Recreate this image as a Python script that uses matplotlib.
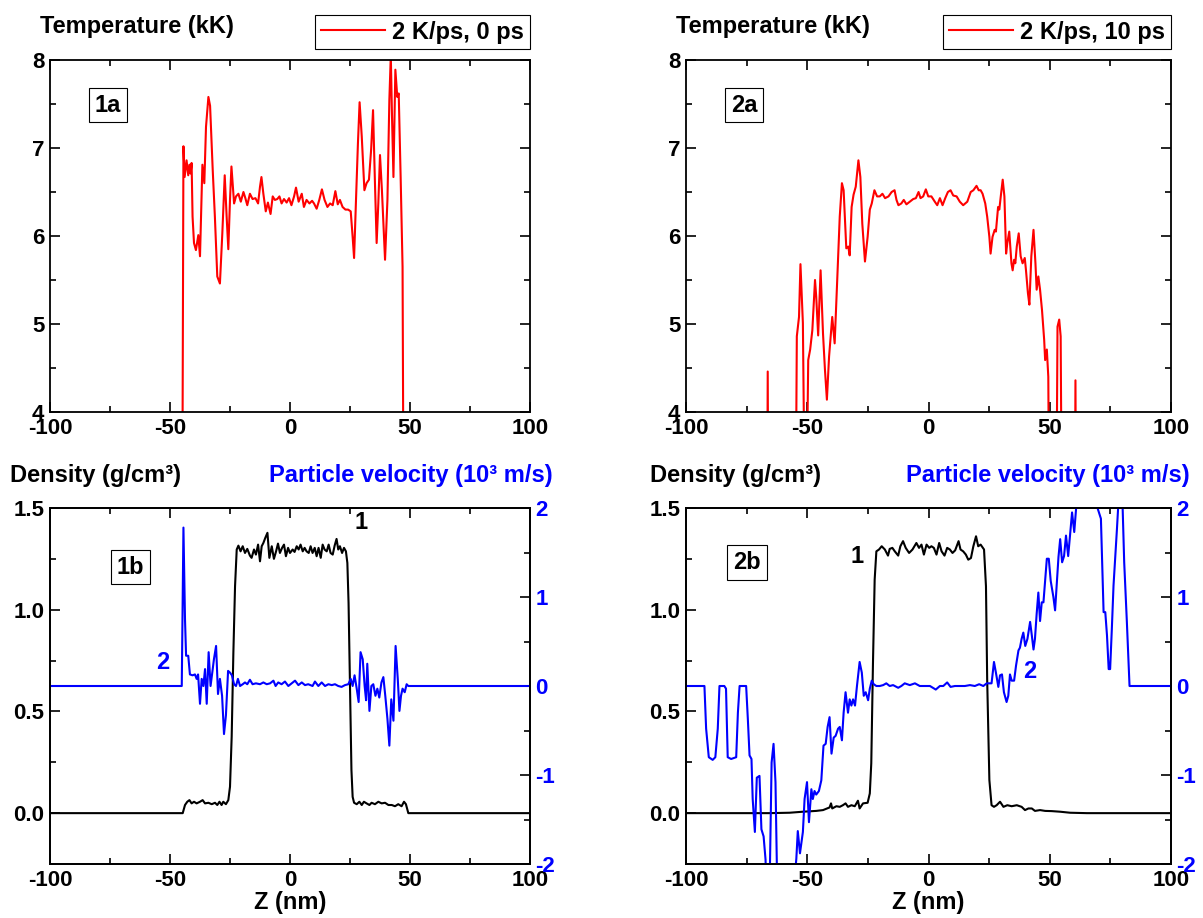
import matplotlib
matplotlib.use("Agg")
import matplotlib.pyplot as plt
from matplotlib.ticker import MultipleLocator

# Panel 1a: temperature profile, 2 K/ps, 0 ps
z_1a = [-45.2, -44.4, -43.9, -43.1, -42.4, -41.9, -41.4, -41.0, -40.6, -40.0, -39.2, -38.2, -37.5,
        -36.5, -35.7, -35.0, -34.0, -33.3, -32.2, -31.3, -30.3, -29.2, -28.2, -27.2, -26.4, -25.7,
        -25.0, -24.4, -23.3, -22.5, -21.5, -20.5, -19.4, -18.6, -17.8, -16.7, -15.6, -14.4, -13.3,
        -12.5, -11.9, -11.1, -10.1, -9.2, -8.1, -7.2, -6.3, -5.3, -4.4, -3.5, -2.5, -1.4, -0.4, 0.6,
        1.7, 2.5, 3.6, 4.9, 5.8, 6.9, 8.1, 9.2, 10.0, 11.1, 12.2, 13.3, 14.4, 15.6, 16.7, 17.8, 18.9,
        19.9, 20.8, 21.9, 23.1, 24.2, 25.3, 26.1, 26.7, 27.5, 28.3, 29.0, 29.9, 31.0, 31.9, 32.9,
        33.8, 34.6, 35.4, 36.1, 36.8, 37.5, 38.3, 39.6, 40.6, 41.4, 42.0, 42.5, 43.1, 43.9, 44.7,
        45.3, 46.1, 46.9, 47.7]
t_1a = [0.0, 7.02, 6.67, 6.86, 6.69, 6.81, 6.71, 6.83, 6.22, 5.92, 5.84, 6.01, 5.77,
        6.81, 6.60, 7.24, 7.58, 7.48, 6.75, 6.22, 5.54, 5.46, 6.03, 6.69, 6.22, 5.85,
        6.41, 6.79, 6.37, 6.45, 6.48, 6.39, 6.50, 6.43, 6.35, 6.48, 6.42, 6.43, 6.37,
        6.56, 6.67, 6.48, 6.28, 6.38, 6.25, 6.45, 6.41, 6.42, 6.45, 6.37, 6.42, 6.38, 6.43, 6.35,
        6.45, 6.55, 6.39, 6.48, 6.33, 6.41, 6.37, 6.40, 6.37, 6.31, 6.41, 6.53, 6.41, 6.33, 6.37, 6.35, 6.51,
        6.36, 6.41, 6.33, 6.30, 6.30, 6.28, 5.99, 5.75, 6.41, 7.05, 7.52, 7.13, 6.52, 6.60, 6.64,
        6.98, 7.43, 6.60, 5.92, 6.37, 6.92, 6.52, 5.73, 6.41, 7.55, 8.05, 7.36, 6.67, 7.89, 7.58,
        7.62, 6.67, 5.65, 0.0]

# Panel 2a: temperature profile, 2 K/ps, 10 ps
z_2a = [-66.9, -66.3, -65.7, -55.4, -54.3, -53.4, -52.8, -51.8, -50.7, -49.6, -48.8, -47.9, -46.8,
        -46.3, -45.5, -44.5, -43.5, -42.7, -41.9, -41.0, -39.7, -38.7, -37.7, -36.6, -35.7, -35.0,
        -33.9, -33.1, -32.5, -31.7, -30.9, -30.0, -28.9, -28.1, -27.3, -26.2, -25.1, -24.2, -23.4,
        -22.3, -21.2, -20.1, -19.0, -17.9, -16.5, -15.2, -14.0, -13.2, -12.4, -11.2, -10.2, -9.1,
        -7.7, -6.3, -5.2, -4.1, -3.3, -2.2, -1.1, -0.1, 1.2, 2.6, 3.6, 4.7, 5.8, 6.9, 8.0, 9.1, 10.2,
        11.6, 12.9, 14.3, 16.0, 17.4, 18.5, 19.8, 20.7, 21.5, 22.3, 23.4, 24.2, 25.1, 25.6, 26.4,
        27.3, 27.8, 28.7, 29.2, 29.8, 30.6, 31.3, 32.0, 32.5, 33.3, 34.2, 34.7, 35.3, 35.8, 36.4,
        37.2, 38.0, 38.8, 39.7, 40.2, 41.0, 41.6, 42.4, 43.3, 44.1, 44.6, 45.3, 46.0, 46.8, 47.7,
        48.1, 48.8, 49.4, 50.4, 52.1, 53.2, 53.9, 54.5, 55.6, 59.9, 60.6, 61.3]
t_2a = [0.0, 4.46, 0.0, 0.0, 4.86, 5.08, 5.68, 5.01, 2.0, 4.59, 4.71, 4.93, 5.50,
        5.31, 4.87, 5.61, 4.89, 4.48, 4.14, 4.63, 5.08, 4.78, 5.46, 6.22, 6.60, 6.52,
        5.86, 5.88, 5.78, 6.33, 6.47, 6.56, 6.86, 6.67, 6.14, 5.71, 5.99, 6.30, 6.37,
        6.52, 6.45, 6.45, 6.48, 6.43, 6.45, 6.50, 6.52, 6.41, 6.35, 6.37, 6.41, 6.36,
        6.39, 6.42, 6.43, 6.50, 6.43, 6.45, 6.53, 6.45, 6.45, 6.39, 6.35, 6.43, 6.35, 6.43, 6.50, 6.52, 6.46,
        6.45, 6.39, 6.35, 6.39, 6.50, 6.52, 6.57, 6.52, 6.52, 6.48, 6.37, 6.22, 5.99, 5.80, 5.99,
        6.07, 6.05, 6.33, 6.30, 6.45, 6.64, 6.45, 5.80, 5.92, 6.05, 5.69, 5.61, 5.73, 5.69, 5.88,
        6.03, 5.77, 5.69, 5.75, 5.61, 5.35, 5.22, 5.77, 6.07, 5.69, 5.39, 5.54, 5.39, 5.16, 4.82,
        4.59, 4.71, 4.40, 0.0, 0.0, 4.97, 5.05, 4.86, 0.0, 0.0, 4.36, 0.0]

# Panel 1b: density (curve 1) and particle velocity (curve 2), 0 ps
z_1b_rho = [-100.0, -44.7, -43.75, -42.8, -41.9, -41.0, -40.0, -38.9, -37.5, -36.4, -35.4, -34.0, -32.6,
            -31.25, -30.3, -29.4, -28.5, -27.8, -26.7, -25.7, -25.0, -24.3, -23.6, -22.9, -22.2, -21.5,
            -20.6, -19.7, -18.75, -17.8, -16.7, -16.0, -15.0, -14.2, -13.3, -12.5, -11.8, -11.1, -10.3,
            -9.4, -8.6, -7.6, -6.7, -5.8, -5.0, -4.2, -3.3, -2.5, -1.7, -0.8, 0.0, 1.1, 1.9, 2.8, 3.6,
            4.4, 5.3, 6.1, 6.9, 7.8, 8.6, 9.4, 10.3, 11.1, 11.9, 12.8, 13.6, 14.4, 15.3, 16.1, 16.9,
            17.8, 18.6, 19.4, 20.1, 20.8, 21.7, 22.5, 23.3, 23.9, 24.4, 25.0, 25.6, 26.1, 26.7, 27.8,
            28.9, 29.9, 30.8, 31.9, 33.1, 34.0, 35.4, 36.8, 38.2, 39.6, 41.0, 42.4, 43.75, 45.1, 46.5,
            47.5, 48.3, 49.3, 100.0]
rho_1b = [0.0, 0.0, 0.04, 0.056, 0.064, 0.048, 0.056, 0.048, 0.056, 0.064, 0.048, 0.051, 0.044,
          0.051, 0.04, 0.056, 0.04, 0.056, 0.044, 0.064, 0.13, 0.376, 0.787, 1.115, 1.296, 1.315,
          1.287, 1.312, 1.279, 1.299, 1.266, 1.255, 1.296, 1.271, 1.320, 1.238, 1.312, 1.328, 1.353,
          1.378, 1.255, 1.312, 1.250, 1.287, 1.325, 1.279, 1.304, 1.320, 1.263, 1.304, 1.279, 1.296, 1.284, 1.312, 1.296,
          1.320, 1.287, 1.304, 1.287, 1.279, 1.312, 1.279, 1.304, 1.263, 1.304, 1.255, 1.320, 1.296, 1.287, 1.320, 1.279,
          1.271, 1.315, 1.348, 1.296, 1.312, 1.279, 1.304, 1.287, 1.230, 1.033, 0.622, 0.212, 0.08, 0.051, 0.044,
          0.056, 0.04, 0.056, 0.048, 0.04, 0.051, 0.044, 0.056, 0.048, 0.051, 0.04, 0.04, 0.034, 0.044, 0.034,
          0.056, 0.044, 0.0, 0.0]
z_1b_vel = [-100.0, -45.1, -44.4, -43.75, -43.3, -42.4, -41.7, -40.6, -39.6, -38.9, -38.3, -37.5, -36.8,
            -36.1, -35.4, -34.7, -33.9, -33.1, -32.2, -31.7, -30.8, -30.0, -29.2, -28.3, -27.5, -26.7,
            -25.8, -25.0, -24.2, -23.3, -22.5, -21.7, -20.8, -19.7, -18.75, -17.8, -16.7, -15.6, -14.2,
            -12.5, -11.1, -9.7, -8.3, -6.9, -6.0, -4.9, -3.5, -2.1, -0.7, 0.7, 2.1, 3.5, 4.9, 6.25, 7.6,
            9.4, 10.4, 11.8, 13.2, 14.6, 16.0, 17.4, 18.75, 20.1, 21.5, 22.9, 24.3, 25.3, 26.1, 26.9,
            27.8, 28.6, 29.4, 30.3, 31.1, 31.7, 32.2, 33.1, 33.9, 34.7, 35.6, 36.4, 37.2, 38.1, 38.9,
            39.7, 40.6, 41.4, 42.2, 43.1, 44.0, 44.9, 45.6, 46.25, 46.9, 47.8, 48.6, 49.3, 100.0]
vel_1b = [0.0, 0.0, 1.78, 0.75, 0.34, 0.34, 0.13, 0.12, 0.13, 0.08, 0.13, -0.2, 0.08,
          0.0, 0.19, -0.2, 0.38, 0.0, 0.19, 0.30, 0.45, -0.09, 0.08, -0.11, -0.54, -0.33,
          0.17, 0.15, 0.12, 0.02, 0.0, 0.08, 0.0, 0.02, 0.04, 0.02, 0.07, 0.02, 0.03,
          0.02, 0.04, 0.02, 0.03, 0.06, 0.0, 0.04, 0.02, 0.05, 0.0, 0.03, 0.06, 0.01, 0.04, 0.01, 0.02,
          0.0, 0.05, 0.0, 0.04, 0.0, 0.02, 0.01, 0.02, 0.0, -0.01, 0.01, 0.02, 0.08, 0.0, 0.12,
          -0.03, -0.18, 0.38, 0.30, 0.0, -0.16, 0.25, -0.28, 0.0, 0.02, -0.11, -0.03, -0.13, 0.04, 0.10,
          -0.11, -0.37, -0.67, -0.15, -0.39, 0.45, 0.08, -0.28, -0.11, -0.03, -0.07, 0.02, 0.0, 0.0]

# Panel 2b: density (curve 1) and particle velocity (curve 2), 10 ps
z_2b_rho = [-100.0, -79.3, -65.6, -57.3, -51.8, -46.3, -43.5, -40.8, -40.2, -39.7, -38.0, -36.6, -35.3,
            -34.2, -33.2, -31.8, -30.4, -29.1, -28.4, -27.0, -25.1, -24.2, -23.6, -22.9, -22.2, -21.5,
            -20.4, -19.3, -18.0, -16.7, -16.0, -14.9, -13.9, -12.5, -11.6, -10.5, -9.4, -8.0, -6.6,
            -5.0, -3.9, -2.9, -1.9, -0.8, 0.3, 1.2, 2.2, 3.3, 4.4, 5.4, 6.6, 7.7, 8.8, 9.9, 11.0, 12.4,
            13.2, 14.3, 15.4, 16.4, 17.5, 18.5, 19.6, 20.5, 21.5, 22.9, 23.7, 24.2, 25.1, 26.0, 27.0,
            28.1, 29.5, 30.9, 32.5, 34.3, 36.4, 38.4, 39.8, 41.2, 42.6, 43.9, 46.0, 48.1, 50.8, 54.3,
            58.4, 65.3, 100.0]
rho_2b = [0.0, 0.0, 0.0, 0.002, 0.007, 0.011, 0.015, 0.028, 0.048, 0.023, 0.034, 0.031, 0.039,
          0.048, 0.031, 0.039, 0.034, 0.061, 0.023, 0.048, 0.051, 0.097, 0.245, 0.737, 1.148, 1.287,
          1.296, 1.312, 1.296, 1.266, 1.299, 1.304, 1.287, 1.266, 1.312, 1.337, 1.304, 1.279, 1.296,
          1.328, 1.304, 1.320, 1.271, 1.320, 1.304, 1.312, 1.304, 1.271, 1.328, 1.287, 1.266, 1.304, 1.296, 1.279, 1.292, 1.337,
          1.296, 1.287, 1.271, 1.246, 1.254, 1.312, 1.361, 1.312, 1.320, 1.296, 1.115, 0.655, 0.163, 0.039, 0.031,
          0.039, 0.056, 0.031, 0.039, 0.034, 0.039, 0.031, 0.015, 0.023, 0.023, 0.011, 0.015, 0.011, 0.01, 0.007,
          0.002, 0.0, 0.0]
z_2b_vel = [-100.0, -92.4, -91.7, -90.6, -89.0, -87.9, -86.9, -86.2, -84.2, -83.5, -82.8, -81.4, -79.3,
            -78.6, -77.9, -75.2, -74.5, -73.8, -73.0, -72.5, -71.6, -70.8, -69.7, -68.9, -68.0, -67.2,
            -66.7, -65.6, -64.7, -63.9, -63.1, -62.3, -56.0, -54.5, -53.9, -53.0, -51.8, -51.1, -50.1,
            -49.3, -48.3, -47.7, -47.0, -46.3, -45.2, -44.2, -43.3, -42.4, -41.6, -40.8, -40.0, -39.1,
            -38.3, -37.3, -36.6, -35.7, -35.0, -34.2, -33.2, -32.5, -31.8, -31.1, -30.3, -29.5, -28.4,
            -27.5, -26.7, -25.9, -24.9, -24.2, -23.4, -22.6, -21.5, -20.1, -18.7, -17.4, -16.0, -14.6,
            -12.5, -11.2, -9.8, -7.7, -5.6, -3.6, -1.5, 0.6, 3.0, 4.7, 6.1, 7.7, 9.1, 10.9, 12.9, 15.0,
            17.1, 19.1, 20.9, 22.6, 24.0, 26.0, 27.0, 27.8, 28.8, 29.5, 30.3, 31.1, 32.2, 32.9, 33.6,
            34.3, 35.3, 36.1, 37.1, 37.7, 38.4, 39.1, 39.9, 40.8, 41.9, 42.6, 43.3, 43.9, 44.6, 45.3,
            46.0, 46.7, 47.4, 48.2, 48.8, 49.6, 50.4, 51.5, 52.2, 52.9, 53.6, 54.3, 55.1, 55.9, 56.7,
            57.6, 58.4, 59.2, 60.1, 60.9, 61.4, 65.3, 69.7, 71.1, 72.2, 72.9, 73.6, 74.3, 74.9, 75.6,
            76.3, 77.7, 78.4, 79.0, 79.8, 80.7, 81.8, 82.9, 100.0]
vel_2b = [0.0, 0.0, -0.48, -0.80, -0.83, -0.80, -0.48, 0.0, 0.0, -0.03, -0.80, -0.82, -0.80,
          -0.30, 0.0, 0.0, -0.37, -0.78, -0.82, -1.27, -1.64, -1.03, -1.01, -1.61, -1.69, -1.95,
          -2.4, -2.4, -0.86, -0.65, -1.08, -2.4, -2.4, -1.94, -1.63, -1.88, -1.64, -1.27, -1.08,
          -1.53, -1.16, -1.27, -1.18, -1.22, -1.18, -1.06, -0.67, -0.65, -0.46, -0.35, -0.76, -0.58,
          -0.56, -0.48, -0.46, -0.61, -0.30, -0.07, -0.30, -0.15, -0.22, -0.15, -0.22, 0.0, 0.27,
          0.15, -0.11, -0.07, -0.16, -0.03, 0.06, 0.02, 0.0, 0.0, 0.01, 0.03, 0.0, 0.01,
          -0.02, 0.0, 0.03, 0.01, 0.03, 0.0, 0.0, 0.0, -0.04, 0.0, 0.0, 0.04, -0.01, 0.0, 0.0, 0.0,
          0.01, 0.0, 0.02, 0.0, 0.03, 0.03, 0.27, 0.15, -0.01, 0.12, 0.13, -0.07, -0.18, -0.11, 0.13,
          0.06, 0.06, 0.23, 0.40, 0.43, 0.53, 0.60, 0.45, 0.53, 0.72, 0.57, 0.41, 0.53, 0.81, 1.05,
          0.73, 0.94, 0.94, 1.22, 1.43, 1.43, 1.18, 1.0, 0.85, 1.16, 1.45, 1.65, 1.39, 1.46, 1.69,
          1.46, 1.71, 1.95, 1.73, 2.0, 2.18, 2.25, 2.0, 1.88, 0.83, 0.83, 0.57, 0.19, 0.19, 0.64,
          1.13, 1.76, 2.1, 2.25, 2.25, 1.39, 0.72, 0.0, 0.0]

TICK_FS = 16
LABEL_FS = 17

plt.rcParams['font.family'] = ['Liberation Sans', 'DejaVu Sans']
plt.rcParams['font.weight'] = 'bold'
plt.rcParams['axes.labelweight'] = 'bold'
plt.rcParams['axes.unicode_minus'] = False
plt.rcParams['axes.linewidth'] = 1.3


def style_axis(ax, top=True, right=True):
    ax.tick_params(which='both', direction='in', top=top, right=right,
                   labelsize=TICK_FS, width=1.2)
    ax.tick_params(which='major', length=7, pad=4)
    ax.tick_params(which='minor', length=4)
    ax.set_xlim(-100, 100)
    ax.xaxis.set_major_locator(MultipleLocator(50))
    ax.xaxis.set_minor_locator(MultipleLocator(25))


def panel_label(ax, text, x, y):
    ax.text(x, y, text, transform=ax.transAxes, fontsize=LABEL_FS, ha='center', va='center',
            bbox=dict(boxstyle='square,pad=0.25', fc='white', ec='black', lw=0.8), zorder=5)


def temperature_panel(ax, z, t, legend_text, label):
    ax.plot(z, t, color='red', lw=1.5, label=legend_text)
    style_axis(ax)
    ax.set_ylim(4, 8)
    ax.yaxis.set_major_locator(MultipleLocator(1))
    ax.yaxis.set_minor_locator(MultipleLocator(0.5))
    ax.text(-0.02, 1.094, 'Temperature (kK)', transform=ax.transAxes, fontsize=LABEL_FS,
            ha='left', va='center')
    leg = ax.legend(loc='lower right', bbox_to_anchor=(1.0, 1.03), borderaxespad=0,
                    fancybox=False, edgecolor='black', framealpha=1, fontsize=LABEL_FS,
                    handlelength=2.7, borderpad=0.25, handletextpad=0.3)
    leg.get_frame().set_linewidth(0.8)
    panel_label(ax, label, 0.12, 0.872)


def density_panel(ax, z_rho, rho, z_vel, vel, label, label_pos, n1_pos, n2_pos, dens_x, vel_x):
    ax.plot(z_rho, rho, color='black', lw=1.5, zorder=3)
    style_axis(ax, right=False)
    ax.set_ylim(-0.25, 1.5)
    ax.yaxis.set_major_locator(MultipleLocator(0.5))
    ax.yaxis.set_minor_locator(MultipleLocator(0.25))
    ax.yaxis.set_major_formatter(plt.FormatStrFormatter('%.1f'))
    ax.set_xlabel('Z (nm)', fontsize=LABEL_FS, labelpad=0)

    ax2 = ax.twinx()
    ax2.plot(z_vel, vel, color='blue', lw=1.5)
    ax2.set_ylim(-2, 2)
    ax2.yaxis.set_major_locator(MultipleLocator(1))
    ax2.yaxis.set_minor_locator(MultipleLocator(0.5))
    ax2.tick_params(which='both', direction='in', right=True, labelsize=TICK_FS,
                    labelcolor='blue', width=1.2)
    ax2.tick_params(which='major', length=7, pad=4)
    ax2.tick_params(which='minor', length=4)
    ax2.set_xlim(-100, 100)

    ax.text(dens_x, 1.09, 'Density (g/cm³)', transform=ax.transAxes, fontsize=LABEL_FS,
            ha='left', va='center')
    ax.text(vel_x, 1.09, 'Particle velocity (10³ m/s)', transform=ax.transAxes,
            fontsize=LABEL_FS, color='blue', ha='right', va='center')
    ax.text(n1_pos[0], n1_pos[1], '1', fontsize=LABEL_FS, color='black', ha='center', va='center')
    ax.text(n2_pos[0], n2_pos[1], '2', fontsize=LABEL_FS, color='blue', ha='center', va='center')
    panel_label(ax2, label, label_pos[0], label_pos[1])


def main():
    fig = plt.figure(figsize=(12.03, 9.18), dpi=100)
    ax_1a = fig.add_axes([50 / 1203, 506 / 918, 480 / 1203, 352 / 918])
    ax_2a = fig.add_axes([686 / 1203, 506 / 918, 485 / 1203, 352 / 918])
    ax_1b = fig.add_axes([50 / 1203, 54 / 918, 480 / 1203, 356 / 918])
    ax_2b = fig.add_axes([686 / 1203, 54 / 918, 485 / 1203, 356 / 918])

    temperature_panel(ax_1a, z_1a, t_1a, '2 K/ps, 0 ps', '1a')
    temperature_panel(ax_2a, z_2a, t_2a, '2 K/ps, 10 ps', '2a')

    density_panel(ax_1b, z_1b_rho, rho_1b, z_1b_vel, vel_1b, '1b', (0.167, 0.834),
                  (29.5, 1.43), (-53.0, 0.74), -0.083, 1.048)
    density_panel(ax_2b, z_2b_rho, rho_2b, z_2b_vel, vel_2b, '2b', (0.126, 0.848),
                  (-29.3, 1.26), (41.7, 0.695), -0.074, 1.039)

    fig.savefig('out.png', dpi=100)


if __name__ == "__main__":
    main()
